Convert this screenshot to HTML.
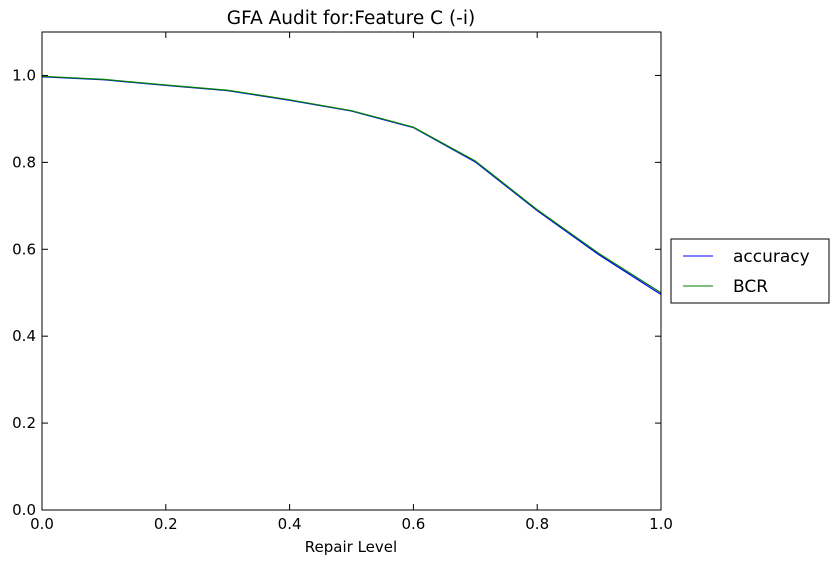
<!DOCTYPE html>
<html><head><meta charset="utf-8"><style>
body{margin:0;background:#fff;}
svg text{font-family:"DejaVu Sans","Liberation Sans",sans-serif;fill:#000;}
</style></head><body>
<svg id="chart" width="839" height="564" xmlns="http://www.w3.org/2000/svg">
<rect width="839" height="564" fill="#fff"/>
<text x="351" y="24" font-size="18.5" text-anchor="middle">GFA Audit for:Feature C (-i)</text>
<g id="axes"></g>
<g id="series"></g>
<rect x="42" y="32" width="619" height="478" fill="none" stroke="#000" stroke-width="1"/>
<text x="351" y="552" font-size="15" text-anchor="middle">Repair Level</text>
<g>
<rect x="671" y="239" width="158" height="64" fill="#fff" stroke="#000"/>
<line x1="683" y1="256" x2="713" y2="256" stroke="#0000ff"/>
<text x="733" y="262" font-size="17">accuracy</text>
<line x1="683" y1="286" x2="713" y2="286" stroke="#007f00"/>
<text x="733" y="292" font-size="17">BCR</text>
</g>
</svg>
<script>
const repairLevels=[0,0.1,0.2,0.3,0.4,0.5,0.6,0.7,0.8,0.9,1.0];
const accuracyValues=[0.997,0.990,0.977,0.965,0.943,0.918,0.880,0.801,0.689,0.587,0.496];
const bcrValues=[0.998,0.991,0.978,0.966,0.944,0.919,0.881,0.803,0.691,0.590,0.500];
const xTicks=[0,0.2,0.4,0.6,0.8,1.0];
const xTickLabels=["0.0","0.2","0.4","0.6","0.8","1.0"];
const yTicks=[0,0.2,0.4,0.6,0.8,1.0];
const yTickLabels=["0.0","0.2","0.4","0.6","0.8","1.0"];
const NS="http://www.w3.org/2000/svg";
const L=42,R=661,T=32,B=510,yMax=1.1;
function xs(v){return L+(R-L)*v;}
function ys(v){return B-(B-T)*v/yMax;}
const axes=document.getElementById('axes');
function mk(tag,attrs,parent){const e=document.createElementNS(NS,tag);for(const k in attrs)e.setAttribute(k,attrs[k]);parent.appendChild(e);return e;}
xTicks.forEach((t,i)=>{
 const x=xs(t);
 const a=mk('line',{x1:x,y1:B,x2:x,y2:B-6,stroke:'#000'},axes);
 
 
 const b=mk('line',{x1:x,y1:T,x2:x,y2:T+6,stroke:'#000'},axes);
 
 
 const tx=mk('text',{x:x,y:B+19,'font-size':15,'text-anchor':'middle'},axes);
 tx.textContent=xTickLabels[i];
 
 
});
yTicks.forEach((t,i)=>{
 const y=ys(t);
 const a=mk('line',{x1:L,y1:y,x2:L+6,y2:y,stroke:'#000'},axes);
 
 
 const b=mk('line',{x1:R,y1:y,x2:R-6,y2:y,stroke:'#000'},axes);
 
 
 const tx=mk('text',{x:L-6,y:y+5,'font-size':15,'text-anchor':'end'},axes);
 tx.textContent=yTickLabels[i];
 
 
});
const series=document.getElementById('series');
function pts(vals){return repairLevels.map((x,i)=>xs(x)+','+ys(vals[i])).join(' ');}
const l1=mk('polyline',{points:pts(accuracyValues),fill:'none',stroke:'#0000ff','stroke-width':1.2},series);


const l2=mk('polyline',{points:pts(bcrValues),fill:'none',stroke:'#007f00','stroke-width':1.2},series);


</script>
</body></html>
